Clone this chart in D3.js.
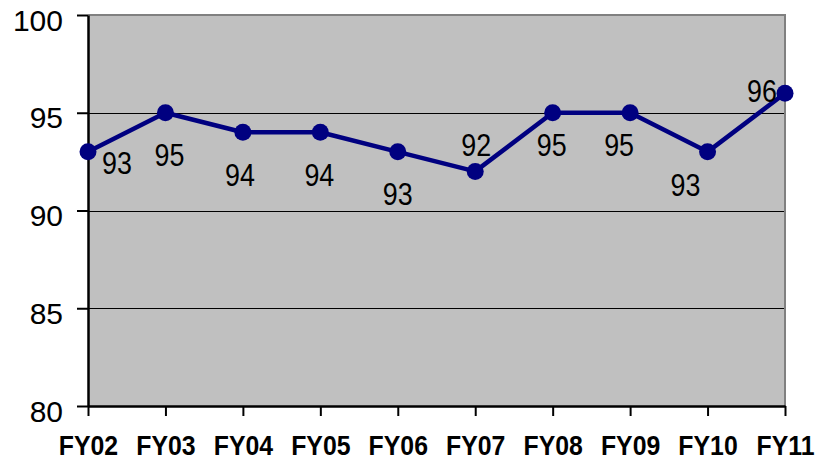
<!DOCTYPE html>
<html>
<head>
<meta charset="utf-8">
<script src="https://cdn.jsdelivr.net/npm/d3@7"></script>
<style>
    body { margin: 0; background: #fff; }
    svg { display: block; }
</style>
</head>
<body>
<div id="chart"></div>
<script>
    // dados do grafico
    var anos = ["FY02", "FY03", "FY04", "FY05", "FY06", "FY07", "FY08", "FY09", "FY10", "FY11"];
    var valores = [93, 95, 94, 94, 93, 92, 95, 95, 93, 96];
    var yTicks = [80, 85, 90, 95, 100];

    var w = 817, h = 462;
    var margem = { top: 15, right: 32, bottom: 56, left: 88 };
    var plotW = w - margem.left - margem.right,
        plotH = h - margem.top - margem.bottom;

    var svg = d3.select("#chart").append("svg")
        .attr("width", w)
        .attr("height", h);

    var g = svg.append("g")
        .attr("transform", "translate(" + margem.left + "," + margem.top + ")");

    var x = d3.scalePoint()
        .domain(anos)
        .range([0, plotW]);

    var y = d3.scaleLinear()
        .domain([80, 100])
        .range([plotH, 0]);

    // fundo cinza
    g.append("rect")
        .attr("width", plotW)
        .attr("height", plotH)
        .attr("fill", "#c0c0c0");

    // linhas de grade
    g.selectAll(".grade")
        .data(yTicks.filter(function(d) { return d > 80 && d < 100; }))
        .enter().append("line")
        .attr("class", "grade")
        .attr("x1", 0)
        .attr("x2", plotW)
        .attr("y1", function(d) { return Math.round(y(d)) + 0.5; })
        .attr("y2", function(d) { return Math.round(y(d)) + 0.5; })
        .attr("stroke", "#000")
        .attr("stroke-width", 1);

    // borda superior e direita
    g.append("path")
        .attr("d", "M0," + y(100) + "H" + plotW + "V" + plotH)
        .attr("fill", "none")
        .attr("stroke", "#808080")
        .attr("stroke-width", 2);

    // eixo y
    var eixoY = g.append("g")
        .call(d3.axisLeft(y).tickValues(yTicks).tickSize(11).tickSizeOuter(0).tickPadding(14));
    eixoY.select(".domain").attr("stroke", "#000").attr("stroke-width", 2.5);
    eixoY.selectAll(".tick line").attr("stroke", "#000").attr("stroke-width", 2);
    eixoY.selectAll(".tick text")
        .attr("font-family", "'Liberation Sans', Arial, sans-serif")
        .attr("font-size", "30px")
        .attr("fill", "#000")
        .attr("dy", "0.5em");

    // eixo x
    var eixoX = g.append("g")
        .attr("transform", "translate(0," + plotH + ")")
        .call(d3.axisBottom(x).tickSize(10).tickSizeOuter(0).tickPadding(20));
    eixoX.select(".domain").attr("stroke", "#000").attr("stroke-width", 2.5);
    eixoX.selectAll(".tick line").attr("stroke", "#000").attr("stroke-width", 2);
    eixoX.selectAll(".tick text")
        .attr("font-family", "'Liberation Sans', Arial, sans-serif")
        .attr("font-size", "27px")
        .attr("font-weight", "bold")
        .attr("fill", "#000")
        .attr("transform", "scale(0.92,1)");

    // linha
    var linha = d3.line()
        .x(function(d, i) { return x(anos[i]); })
        .y(function(d) { return y(d); });

    g.append("path")
        .datum(valores)
        .attr("d", linha)
        .attr("fill", "none")
        .attr("stroke", "#000080")
        .attr("stroke-width", 4.5)
        .attr("stroke-linejoin", "round");

    g.selectAll(".ponto")
        .data(valores)
        .enter().append("circle")
        .attr("class", "ponto")
        .attr("cx", function(d, i) { return x(anos[i]); })
        .attr("cy", function(d) { return y(d); })
        .attr("r", 8.5)
        .attr("fill", "#000080");

    // deslocamento dos rotulos (como no original)
    var desloc = [[29, 11], [4, 42], [-3, 42], [-1, 42], [0, 42], [1, -27], [-1, 32], [-11, 32], [-22, 33], [-23, -3]];

    // rotulos estreitos: fonte normal comprimida na horizontal
    g.selectAll(".rotulo")
        .data(valores)
        .enter().append("g")
        .attr("class", "rotulo")
        .attr("transform", function(d, i) {
            return "translate(" + (x(anos[i]) + desloc[i][0]) + "," + (y(d) + desloc[i][1]) + ") scale(0.84,1)";
        })
        .append("text")
        .attr("dy", "0.36em")
        .attr("text-anchor", "middle")
        .attr("font-family", "'Liberation Sans', Arial, sans-serif")
        .attr("font-size", "32px")
        .attr("fill", "#000")
        .text(function(d) { return d; });
</script>
</body>
</html>
